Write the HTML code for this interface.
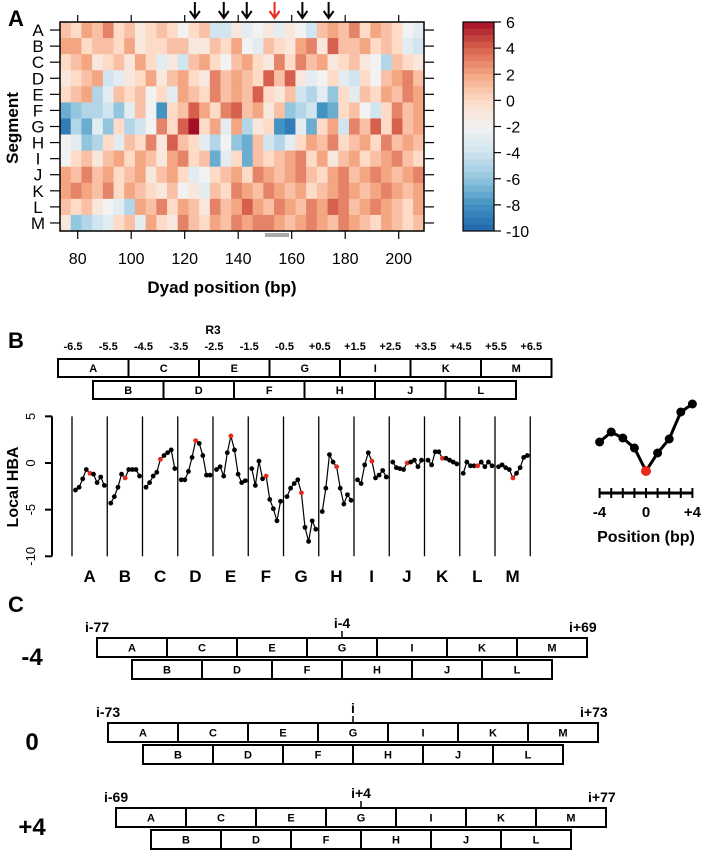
<!DOCTYPE html>
<html><head><meta charset="utf-8"><style>
body{margin:0;background:#fff;}
svg{display:block;font-family:"Liberation Sans",Arial,sans-serif;}
</style></head><body>
<svg id="fig" width="712" height="851" viewBox="0 0 712 851" xmlns="http://www.w3.org/2000/svg">
<g id="pa"></g>
<g id="pb"></g>
<g id="pc"></g>
</svg>
<script>
// ---------- Panel A data ----------
const segments = ["A","B","C","D","E","F","G","H","I","J","K","L","M"];
const heatStartBp = 73.4;
const heatBinBp = 4;
const xTicks = [80,100,120,140,160,180,200];
const cbTicks = [6,4,2,0,-2,-4,-6,-8,-10];
const arrowBp = [123.8,134.6,143.2,164,173.8];
const redArrowBp = [153.6];
const rowA=[1,0,2,1,3,0,1,-1,0,1,0,-2,0,1,-4,-4,-1,-3,-2,-1,-3,-1,-2,-4,1,2,1,3,0,2,1,0,-2,-3];
const rowB=[2,2,0,1,1,0,2,-1,0,0,1,1,-1,-1,1,0,2,-2,-3,1,0,-1,2,3,-1,4,1,1,2,0,1,0,-3,-4];
const rowC=[0,1,2,-1,0,1,-1,2,0,-3,-1,-4,1,2,0,-2,1,2,0,-1,3,0,3,1,2,-1,0,1,-1,-2,-5,1,0,-1];
const rowD=[-1,0,1,2,-4,-3,-1,0,2,-1,1,2,0,-1,3,1,2,1,0,4,1,4,-1,-3,-2,0,-3,-4,0,-2,1,2,3,1];
const rowE=[0,1,2,-5,-3,1,0,1,-2,0,-3,2,1,0,3,1,2,1,4,0,-1,1,-4,-5,-3,-6,0,-3,1,0,2,1,3,2];
const rowF=[-7,-6,-5,-5,-4,-6,-3,1,-2,-8,0,1,4,2,0,3,4,1,2,-1,1,-6,-5,-4,-8,-7,0,1,-2,-4,0,3,1,2];
const rowG=[-9,-5,-7,-3,-6,0,-5,-4,-2,3,0,4,6,0,2,-3,2,-5,-1,0,-8,-9,-3,-7,0,2,-4,3,1,4,0,4,1,2];
const rowH=[-2,-3,-6,-5,0,-3,1,0,3,-1,4,1,0,-3,-5,-2,-6,-7,1,-4,-5,-3,0,2,1,3,0,1,2,0,3,1,2,1];
const rowI=[-2,0,1,-1,1,2,0,2,1,-1,2,3,0,1,-7,-3,0,-7,1,0,1,2,3,0,2,-1,1,2,0,1,2,3,1,0];
const rowJ=[2,1,3,1,2,0,1,2,-1,1,2,0,-3,-2,0,1,2,0,3,2,1,2,3,1,0,2,3,1,2,3,2,1,2,3];
const rowK=[2,3,2,1,3,0,2,1,0,-1,1,-2,-1,-3,1,0,3,2,1,3,2,1,2,0,1,2,3,2,1,2,3,2,1,2];
const rowL=[1,0,1,-1,-2,-3,-5,2,1,3,0,2,1,-1,3,1,2,4,2,1,3,2,1,3,2,4,3,1,2,3,2,1,0,2];
const rowM=[-1,-6,-5,-4,-3,0,1,-3,2,0,-1,3,1,0,2,1,3,2,3,3,2,1,2,3,2,1,3,2,1,0,2,1,0,1];
const heatRows=[rowA,rowB,rowC,rowD,rowE,rowF,rowG,rowH,rowI,rowJ,rowK,rowL,rowM];

// ---------- Panel B data ----------
const posLabels = ["-6.5","-5.5","-4.5","-3.5","-2.5","-1.5","-0.5","+0.5","+1.5","+2.5","+3.5","+4.5","+5.5","+6.5"];
const hbaTicks = [5,0,-5,-10];
const hbaA=[-2.9,-2.6,-1.7,-0.7,-1.1,-1.2,-2.1,-1.5,-2.4];
const hbaB=[-4.3,-3.6,-2.6,-1.2,-1.6,-0.7,-0.7,-0.7,-1.4];
const hbaC=[-2.6,-2.1,-1.4,-1.0,0.4,0.8,1.1,1.4,-0.6];
const hbaD=[-1.8,-1.8,-0.9,0.6,2.4,2.1,0.8,-1.3,-1.3];
const hbaE=[-0.7,-0.4,-1.4,1.1,2.9,1.4,-1.2,-2.1,-1.9];
const hbaF=[-0.6,-2.4,0.2,-1.7,-1.4,-3.9,-4.9,-6.2,-4.1];
const hbaG=[-3.6,-2.7,-2.2,-1.8,-3.2,-6.9,-8.4,-6.2,-7.1];
const hbaH=[-5.2,-2.7,0.9,0.1,-0.4,-2.7,-4.4,-3.4,-4.0];
const hbaI=[-1.8,-2.2,-0.2,1.1,0.2,-1.6,-1.3,-0.8,-1.5];
const hbaJ=[0.1,-0.5,-0.6,-0.7,0.0,0.1,0.3,-0.4,0.3];
const hbaK=[0.3,-0.2,1.2,1.2,0.5,0.5,0.3,0.1,-0.1];
const hbaL=[-1.1,0.1,-0.3,-0.3,-0.3,0.1,-0.4,0.1,-0.3];
const hbaM=[-0.4,-0.2,-0.5,-0.7,-1.6,-1.1,-0.5,0.6,0.8];
const hbaSeries=[hbaA,hbaB,hbaC,hbaD,hbaE,hbaF,hbaG,hbaH,hbaI,hbaJ,hbaK,hbaL,hbaM];
const insetPos=[-4,-3,-2,-1,0,1,2,3,4];
const insetVals=[2.9,3.9,3.3,2.3,0,1.8,3.2,5.9,6.7];

// ---------- Panel C data ----------
const cShifts=["-4","0","+4"];
const cLeft=["i-77","i-73","i-69"];
const cMid=["i-4","i","i+4"];
const cRight=["i+69","i+73","i+77"];
const topBoxes=["A","C","E","G","I","K","M"];
const botBoxes=["B","D","F","H","J","L"];

const NS="http://www.w3.org/2000/svg";
function mk(parent,tag,attrs,text){const e=document.createElementNS(NS,tag);for(const k in attrs)e.setAttribute(k,attrs[k]);if(text!==undefined)e.textContent=text;parent.appendChild(e);return e;}

// colour scale
const cStops=[[-10,[33,102,172]],[-8,[67,147,195]],[-6,[146,197,222]],[-4,[209,229,240]],[-2,[242,242,242]],[0,[253,219,199]],[2,[244,165,130]],[4,[214,96,77]],[6,[165,15,38]]];
function col(v){v=Math.max(-10,Math.min(6,v));for(let i=0;i<cStops.length-1;i++){const[a,ca]=cStops[i],[b,cb]=cStops[i+1];if(v<=b){const t=(v-a)/(b-a);return`rgb(${ca.map((c,j)=>Math.round(c+(cb[j]-c)*t)).join(",")})`;}}return"rgb(165,15,38)";}

// ---------- Panel A ----------
const pa=document.getElementById('pa');
const hx0=60,hx1=424,hy0=22,hy1=231;
const xs=bp=>77.7+(bp-80)*2.675;
const rowH_=(hy1-hy0)/13;
heatRows.forEach((row,r)=>{
  row.forEach((v,c)=>{
    const x0=xs(heatStartBp+c*heatBinBp),x1=Math.min(hx1,xs(heatStartBp+(c+1)*heatBinBp));
    const cell=mk(pa,'rect',{x:x0,y:hy0+r*rowH_,width:x1-x0+0.4,height:rowH_+0.4,fill:col(v)});
    
    
  });
  const cy=hy0+(r+0.5)*rowH_;
  mk(pa,'line',{x1:50,x2:hx0,y1:cy,y2:cy,stroke:'#000','stroke-width':1.2});
  mk(pa,'line',{x1:hx1,x2:434,y1:cy,y2:cy,stroke:'#000','stroke-width':1.2});
  const t=mk(pa,'text',{x:38,y:cy+6,'text-anchor':'middle','font-size':17},segments[r]);
  
  
});
mk(pa,'rect',{x:hx0,y:hy0,width:hx1-hx0,height:hy1-hy0,fill:'none',stroke:'#000','stroke-width':1.5});
xTicks.forEach(t=>{
  const x=xs(t);
  mk(pa,'line',{x1:x,x2:x,y1:hy1,y2:hy1+8,stroke:'#000','stroke-width':1.2});
  mk(pa,'line',{x1:x,x2:x,y1:hy0,y2:hy0-7,stroke:'#000','stroke-width':1.2});
  const l=mk(pa,'text',{x:x,y:264,'text-anchor':'middle','font-size':16},String(t));
  
  
});
mk(pa,'rect',{x:xs(150),y:233,width:xs(159)-xs(150),height:4,fill:'#aaa'});
function arrow(bp,color){const x=xs(bp);const g=mk(pa,'g',{});
  
  
  mk(g,'line',{x1:x,x2:x,y1:2,y2:16,stroke:color,'stroke-width':2});
  mk(g,'path',{d:`M${x-5} ${11} L${x} ${18} L${x+5} ${11}`,fill:'none',stroke:color,'stroke-width':2});}
arrowBp.forEach(b=>arrow(b,'#000'));
redArrowBp.forEach(b=>arrow(b,'#e8281c'));
let t=mk(pa,'text',{x:222,y:293,'text-anchor':'middle','font-size':17,'font-weight':'bold'},'Dyad position (bp)');

t=mk(pa,'text',{x:0,y:0,'text-anchor':'middle','font-size':17,'font-weight':'bold',transform:'translate(18,128) rotate(-90)'},'Segment');

t=mk(pa,'text',{x:8,y:26,'font-size':22,'font-weight':'bold'},'A');

// colorbar
const cbx=463,cbw=31,cby0=22,cby1=231;
const cby=v=>cby0+(6-v)/16*(cby1-cby0);
for(let i=0;i<32;i++){const v0=6-i*0.5;mk(pa,'rect',{x:cbx,y:cby(v0),width:cbw,height:cby(v0-0.5)-cby(v0)+0.5,fill:col(v0-0.25)});}
mk(pa,'rect',{x:cbx,y:cby0,width:cbw,height:cby1-cby0,fill:'none',stroke:'#000','stroke-width':1.2});
cbTicks.forEach(v=>{const y=cby(v);mk(pa,'line',{x1:cbx+cbw,x2:cbx+cbw+7,y1:y,y2:y,stroke:'#000','stroke-width':1.2});
  const l=mk(pa,'text',{x:506,y:y+6,'font-size':16},String(v));
  });

// ---------- Panel B ----------
const pb=document.getElementById('pb');
t=mk(pb,'text',{x:8,y:348,'font-size':22,'font-weight':'bold'},'B');

const lx=k=>72+35.25*k;
t=mk(pb,'text',{x:lx(4),y:334,'text-anchor':'middle','font-size':12,'font-weight':'bold'},'R3');

posLabels.forEach((p,k)=>{const l=mk(pb,'text',{x:lx(k)+1,y:350,'text-anchor':'middle','font-size':11,'font-weight':'bold'},p);
  });
function boxRow(g,labels,x0,y0,w,h){labels.forEach((s,i)=>{const b=mk(g,'g',{});
  
  mk(b,'rect',{x:x0+i*w,y:y0,width:w,height:h,fill:'#fff',stroke:'#000','stroke-width':2});
  mk(b,'text',{x:x0+i*w+w/2,y:y0+h/2+4,'text-anchor':'middle','font-size':11,'font-weight':'bold'},s);});}
boxRow(pb,topBoxes,58,359,70.5,18);
boxRow(pb,botBoxes,93,381,70.5,18);
const by=v=>463-v*9.33;
mk(pb,'line',{x1:52,x2:52,y1:by(5),y2:by(-10),stroke:'#000','stroke-width':2});
hbaTicks.forEach(v=>{mk(pb,'line',{x1:45,x2:52,y1:by(v),y2:by(v),stroke:'#000','stroke-width':2});
  const l=mk(pb,'text',{x:0,y:0,'text-anchor':'middle','font-size':13,transform:`translate(35,${by(v)}) rotate(-90)`},String(v));
  });
t=mk(pb,'text',{x:0,y:0,'text-anchor':'middle','font-size':16,'font-weight':'bold',transform:'translate(18,487) rotate(-90)'},'Local HBA');

for(let k=0;k<14;k++){mk(pb,'line',{x1:lx(k),x2:lx(k),y1:by(5),y2:by(-10),stroke:'#000','stroke-width':1.3});}
hbaSeries.forEach((s,k)=>{const g=mk(pb,'g',{});
  
  const px=i=>lx(k)+3.5+i*3.6;
  mk(g,'polyline',{points:s.map((v,i)=>px(i)+','+by(v)).join(' '),fill:'none',stroke:'#000','stroke-width':1.2});
  s.forEach((v,i)=>mk(g,'circle',{cx:px(i),cy:by(v),r:2.4,fill:i===4?'#e8281c':'#000'}));
  const l=mk(pb,'text',{x:lx(k)+17.6,y:582,'text-anchor':'middle','font-size':17,'font-weight':'bold'},segments[k]);
  });
// inset
const ix=p=>646+p*11.6, iy=v=>471-v*10;
const ig=mk(pb,'g',{});
mk(ig,'polyline',{points:insetPos.map((p,i)=>ix(p)+','+iy(insetVals[i])).join(' '),fill:'none',stroke:'#000','stroke-width':3});
insetPos.forEach((p,i)=>mk(ig,'circle',{cx:ix(p),cy:iy(insetVals[i]),r:p===0?5:4.5,fill:p===0?'#e8281c':'#000'}));
mk(pb,'line',{x1:ix(-4),x2:ix(4),y1:493,y2:493,stroke:'#000','stroke-width':3});
insetPos.forEach(p=>mk(pb,'line',{x1:ix(p),x2:ix(p),y1:488,y2:498,stroke:'#000','stroke-width':2}));
[["-4",-4],["0",0],["+4",4]].forEach(([s,p])=>{const l=mk(pb,'text',{x:ix(p),y:517,'text-anchor':'middle','font-size':15,'font-weight':'bold'},s);
  });
t=mk(pb,'text',{x:646,y:542,'text-anchor':'middle','font-size':16,'font-weight':'bold'},'Position (bp)');


// ---------- Panel C ----------
const pc=document.getElementById('pc');
t=mk(pc,'text',{x:8,y:612,'font-size':22,'font-weight':'bold'},'C');

const cTopX=[97,108,116],cTopY=[638,723,808];
cShifts.forEach((s,r)=>{const g=mk(pc,'g',{});
  
  const x0=cTopX[r],y0=cTopY[r],w=70;
  boxRow(g,topBoxes,x0,y0,w,19);
  boxRow(g,botBoxes,x0+w/2,y0+22,w,19);
  mk(g,'text',{x:32,y:y0+27,'text-anchor':'middle','font-size':24,'font-weight':'bold'},s);
  mk(g,'text',{x:x0-12,y:y0-6,'font-size':14,'font-weight':'bold'},cLeft[r]);
  mk(g,'text',{x:x0+7*w-18,y:y0-6,'font-size':14,'font-weight':'bold'},cRight[r]);
  const mx=x0+3.5*w;
  mk(g,'line',{x1:mx,x2:mx,y1:y0-7,y2:y0,stroke:'#000','stroke-width':1.5});
  mk(g,'text',{x:mx,y:y0-10,'text-anchor':'middle','font-size':14,'font-weight':'bold'},cMid[r]);
});
</script>
</body></html>
